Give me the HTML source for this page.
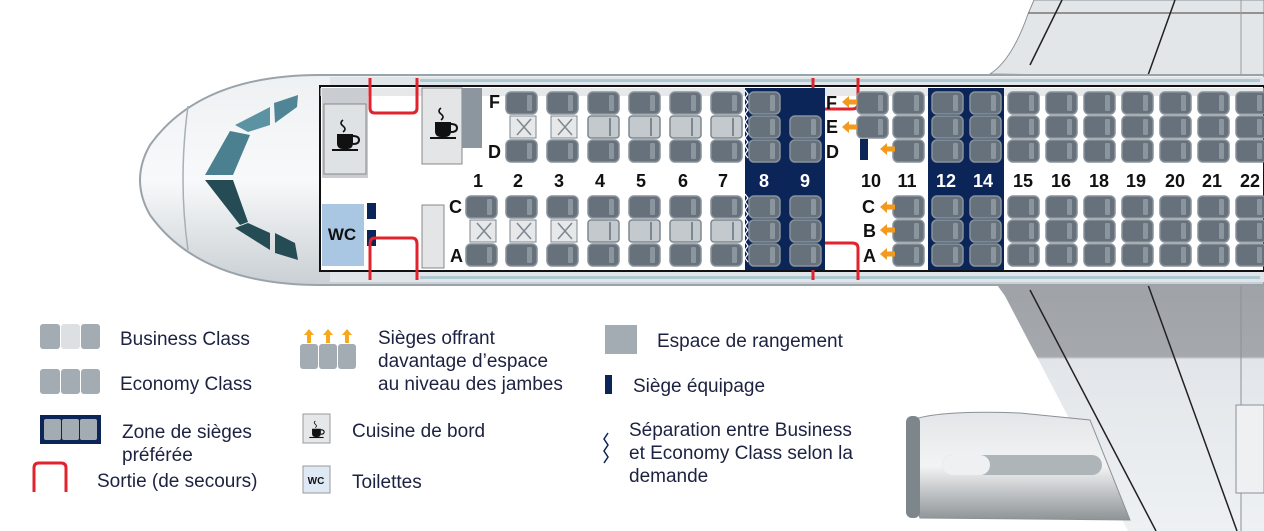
<!DOCTYPE html>
<html><head><meta charset="utf-8"><style>
body{margin:0;background:#fff;width:1264px;height:531px;overflow:hidden}
svg{display:block}
text{font-family:"Liberation Sans",sans-serif}
</style></head><body>
<svg width="1264" height="531" viewBox="0 0 1264 531" xmlns="http://www.w3.org/2000/svg">
<defs>
<linearGradient id="wing" x1="0" y1="0" x2="0" y2="1">
<stop offset="0" stop-color="#9fa3a7"/><stop offset="0.3" stop-color="#a5a9ad"/><stop offset="0.31" stop-color="#e2e6ea"/><stop offset="1" stop-color="#eef1f3"/>
</linearGradient>
<linearGradient id="body" x1="0" y1="0" x2="0" y2="1">
<stop offset="0" stop-color="#eef1f3"/><stop offset="0.5" stop-color="#f8f9fa"/><stop offset="1" stop-color="#c9cfd4"/>
</linearGradient>
<linearGradient id="eng" x1="0" y1="0" x2="0" y2="1">
<stop offset="0" stop-color="#e3e6e8"/><stop offset="0.5" stop-color="#f2f3f4"/><stop offset="1" stop-color="#8e9396"/>
</linearGradient>
<g id="s"><rect x="0" y="0" width="31" height="22" rx="5" fill="#66717b" stroke="#88929a" stroke-width="1.5"/><rect x="21" y="3" width="5" height="16" rx="1" fill="#8a959e"/></g>
<g id="b"><rect x="0" y="0" width="31" height="22" rx="3" fill="#c4c9ce" stroke="#7d878f" stroke-width="1.5"/><rect x="21" y="2" width="2" height="18" fill="#7d878f"/></g>
<g id="x"><rect x="4" y="0" width="26" height="22" fill="#e6e8ea" stroke="#7d878f" stroke-width="1"/><path d="M11 3 L25 19 M25 3 L11 19" stroke="#7d878f" stroke-width="1.5"/></g>
<g id="ar"><path d="M0 0 L7 -6 L7 -2.5 L15 -2.5 L15 2.5 L7 2.5 L7 6 Z" fill="#f39a1e"/></g>
<g id="cup"><path d="M-3 -20 q-4 3 0 6 q4 3 0 6" stroke="#111" fill="none" stroke-width="1.6"/><path d="M-9 -6 h16 v9 q0 6 -6 6 h-4 q-6 0 -6 -6 z" fill="#111"/><path d="M7 -4 q6 0 6 4 q0 4 -6 4" stroke="#111" fill="none" stroke-width="2"/><rect x="-14" y="9" width="26" height="2" fill="#111"/></g>
</defs>
<!-- top wing -->
<path d="M990 74 Q1012 60 1028 14 L1034 0 L1264 0 L1264 78 Z" fill="#e3e6e9" stroke="#8a9096"/>
<path d="M1028 13 L1264 13" stroke="#777" stroke-width="1.5"/>
<path d="M1030 65 L1062 0 M1147 78 L1175 0" stroke="#222" stroke-width="1.5"/>
<path d="M1241 0 L1241 78" stroke="#999"/>
<!-- lower wing -->
<path d="M995 282 L1264 282 L1264 531 L1128 531 L1005 296 Z" fill="url(#wing)"/>
<path d="M1030 290 L1156 531 M1147 282 L1237 531" stroke="#222" stroke-width="1.5"/>
<path d="M1241 282 L1241 531" stroke="#8b9196"/>
<rect x="1236" y="405" width="28" height="88" fill="#eef0f2" stroke="#8b9196"/>
<!-- engine -->
<path d="M912 420 Q940 410 1020 413 L1090 420 L1130 520 L920 518 Q903 470 912 420 Z" fill="url(#eng)" stroke="#8b9196"/>
<rect x="906" y="416" width="14" height="102" rx="6" fill="#7d868b"/>
<rect x="942" y="455" width="160" height="20" rx="10" fill="#aeb5b9"/>
<rect x="942" y="455" width="48" height="20" rx="10" fill="#eef0f1"/>
<!-- fuselage -->
<path d="M320 75 L1264 75 L1264 285 L320 285 Q200 285 150 215 Q130 180 150 145 Q200 75 320 75 Z" fill="url(#body)" stroke="#9aa3aa" stroke-width="2"/>
<rect x="330" y="77" width="934" height="9" fill="#dfe5e8"/>
<rect x="330" y="272" width="934" height="10" fill="#dfe5e8"/>
<g fill="#8fb6c3"><rect x="420" y="79" width="840" height="3" opacity=".6"/><rect x="420" y="276" width="840" height="3" opacity=".6"/></g>
<!-- cockpit windows -->
<path d="M274 103 L298 95 L297 107 L275 123 Z" fill="#4f8595"/>
<path d="M235 125 L270 107 L270 125 L248 132 Z" fill="#5b93a2"/>
<path d="M230 131 L250 135 L233 175 L205 175 Z" fill="#4a8090"/>
<path d="M205 180 L233 180 L248 222 L240 225 Z" fill="#254b55"/>
<path d="M235 228 L248 223 L270 233 L270 250 Z" fill="#254b55"/>
<path d="M275 233 L295 243 L298 260 L275 253 Z" fill="#254b55"/>
<path d="M188 106 Q178 180 188 250" stroke="#a7b0b6" fill="none" stroke-width="1.5"/>
<!-- cabin -->
<rect x="320" y="86" width="944" height="185" fill="#fff" stroke="#111" stroke-width="2"/>
<rect x="320" y="88" width="944" height="8" fill="#d6d9dc" opacity=".6"/>
<!-- front galley -->
<rect x="322" y="88" width="46" height="90" fill="#c9cdd1"/>
<rect x="324" y="104" width="42" height="70" fill="#dfe2e5" stroke="#888"/>
<use href="#cup" x="346" y="140"/>
<rect x="322" y="204" width="42" height="62" fill="#a9c7e3"/>
<text x="342" y="240" font-size="17" font-weight="bold" text-anchor="middle" fill="#111">WC</text>
<rect x="367" y="203" width="9" height="16" fill="#0b2559"/><rect x="367" y="230" width="9" height="16" fill="#0b2559"/>
<rect x="422" y="88" width="40" height="76" fill="#e3e5e7" stroke="#888"/>
<rect x="462" y="88" width="20" height="60" fill="#8b969f"/>
<use href="#cup" x="444" y="128"/>
<rect x="422" y="205" width="22" height="63" fill="#e3e5e7" stroke="#888"/>
<!-- exits -->
<g fill="none" stroke="#e0232d" stroke-width="3">
<path d="M370 78 L370 108 Q370 113 375 113 L412 113 Q417 113 417 108 L417 78"/>
<path d="M370 280 L370 244 Q370 238 375 238 L412 238 Q417 238 417 244 L417 280"/>
<path d="M813 78 L813 104 Q813 109 818 109 L852 109 Q858 109 858 104 L858 78"/>
<path d="M813 280 L813 248 Q813 243 818 243 L852 243 Q858 243 858 248 L858 280"/>
</g>
<!-- navy zones -->
<rect x="745" y="88" width="80" height="182" fill="#0b2559"/>
<rect x="928" y="88" width="76" height="182" fill="#0b2559"/>
<path d="M745 90 l3 4 -3 4 3 4 -3 4 3 4 -3 4 3 4 -3 4 3 4 -3 4 3 4 -3 4 3 4 -3 4 3 4 -3 4 3 4 M745 194 l3 4 -3 4 3 4 -3 4 3 4 -3 4 3 4 -3 4 3 4 -3 4 3 4 -3 4 3 4 -3 4 3 4 -3 4 3 4" stroke="#fff" fill="none" stroke-width="1.2"/>
<g>
<use href="#s" x="506" y="92"/><use href="#x" x="506" y="116"/><use href="#s" x="506" y="140"/>
<use href="#s" x="547" y="92"/><use href="#x" x="547" y="116"/><use href="#s" x="547" y="140"/>
<use href="#s" x="588" y="92"/><use href="#b" x="588" y="116"/><use href="#s" x="588" y="140"/>
<use href="#s" x="629" y="92"/><use href="#b" x="629" y="116"/><use href="#s" x="629" y="140"/>
<use href="#s" x="670" y="92"/><use href="#b" x="670" y="116"/><use href="#s" x="670" y="140"/>
<use href="#s" x="711" y="92"/><use href="#b" x="711" y="116"/><use href="#s" x="711" y="140"/>
<use href="#s" x="466" y="196"/><use href="#x" x="466" y="220"/><use href="#s" x="466" y="244"/>
<use href="#s" x="506" y="196"/><use href="#x" x="506" y="220"/><use href="#s" x="506" y="244"/>
<use href="#s" x="547" y="196"/><use href="#x" x="547" y="220"/><use href="#s" x="547" y="244"/>
<use href="#s" x="588" y="196"/><use href="#b" x="588" y="220"/><use href="#s" x="588" y="244"/>
<use href="#s" x="629" y="196"/><use href="#b" x="629" y="220"/><use href="#s" x="629" y="244"/>
<use href="#s" x="670" y="196"/><use href="#b" x="670" y="220"/><use href="#s" x="670" y="244"/>
<use href="#s" x="711" y="196"/><use href="#b" x="711" y="220"/><use href="#s" x="711" y="244"/>
<use href="#s" x="749" y="92"/><use href="#s" x="749" y="116"/><use href="#s" x="749" y="140"/>
<use href="#s" x="790" y="116"/><use href="#s" x="790" y="140"/>
<use href="#s" x="749" y="196"/><use href="#s" x="749" y="220"/><use href="#s" x="749" y="244"/>
<use href="#s" x="790" y="196"/><use href="#s" x="790" y="220"/><use href="#s" x="790" y="244"/>
<use href="#s" x="857" y="92"/><use href="#s" x="857" y="116"/>
<rect x="860" y="139" width="8" height="21" fill="#0b2559"/>
<use href="#s" x="893" y="92"/><use href="#s" x="893" y="116"/><use href="#s" x="893" y="140"/>
<use href="#s" x="893" y="196"/><use href="#s" x="893" y="220"/><use href="#s" x="893" y="244"/>
<use href="#s" x="932" y="92"/><use href="#s" x="932" y="116"/><use href="#s" x="932" y="140"/>
<use href="#s" x="970" y="92"/><use href="#s" x="970" y="116"/><use href="#s" x="970" y="140"/>
<use href="#s" x="932" y="196"/><use href="#s" x="932" y="220"/><use href="#s" x="932" y="244"/>
<use href="#s" x="970" y="196"/><use href="#s" x="970" y="220"/><use href="#s" x="970" y="244"/>
<g id="r"><use href="#s" x="1008" y="92"/><use href="#s" x="1008" y="116"/><use href="#s" x="1008" y="140"/><use href="#s" x="1008" y="196"/><use href="#s" x="1008" y="220"/><use href="#s" x="1008" y="244"/></g>
<use href="#r" x="38"/><use href="#r" x="76"/><use href="#r" x="114"/><use href="#r" x="152"/><use href="#r" x="190"/><use href="#r" x="228"/>
</g>
<!-- arrows -->
<use href="#ar" x="842" y="102"/><use href="#ar" x="842" y="127"/><use href="#ar" x="880" y="149"/>
<use href="#ar" x="880" y="207"/><use href="#ar" x="880" y="230"/><use href="#ar" x="880" y="254"/>
<g font-size="18" font-weight="bold" fill="#111">
<text x="489" y="108">F</text><text x="488" y="158">D</text>
<text x="449" y="213">C</text><text x="450" y="262">A</text>
<text x="826" y="109">F</text><text x="826" y="133">E</text><text x="826" y="158">D</text>
<text x="862" y="213">C</text><text x="863" y="237">B</text><text x="863" y="262">A</text>
</g>
<g font-size="18" font-weight="bold" text-anchor="middle" fill="#111">
<text x="478" y="187">1</text><text x="518" y="187">2</text><text x="559" y="187">3</text><text x="600" y="187">4</text><text x="641" y="187">5</text><text x="683" y="187">6</text><text x="723" y="187">7</text>
<text x="764" y="187" fill="#fff">8</text><text x="805" y="187" fill="#fff">9</text>
<text x="871" y="187">10</text><text x="907" y="187">11</text>
<text x="946" y="187" fill="#fff">12</text><text x="983" y="187" fill="#fff">14</text>
<text x="1023" y="187">15</text><text x="1061" y="187">16</text><text x="1099" y="187">18</text><text x="1136" y="187">19</text><text x="1175" y="187">20</text><text x="1212" y="187">21</text><text x="1250" y="187">22</text>
</g>
<!-- legend -->
<g>
<rect x="40" y="324" width="20" height="25" rx="3" fill="#a4acb3"/><rect x="61" y="324" width="19" height="25" rx="3" fill="#dde0e3"/><rect x="81" y="324" width="19" height="25" rx="3" fill="#a4acb3"/>
<rect x="40" y="369" width="20" height="25" rx="3" fill="#a4acb3"/><rect x="61" y="369" width="19" height="25" rx="3" fill="#a4acb3"/><rect x="81" y="369" width="19" height="25" rx="3" fill="#a4acb3"/>
<rect x="40" y="415" width="61" height="29" fill="#0b2559"/>
<rect x="44" y="419" width="17" height="21" rx="2" fill="#a4acb3"/><rect x="62" y="419" width="17" height="21" rx="2" fill="#a4acb3"/><rect x="80" y="419" width="17" height="21" rx="2" fill="#a4acb3"/>
<path d="M34 492 L34 468 Q34 463 39 463 L61 463 Q66 463 66 468 L66 492" fill="none" stroke="#e0232d" stroke-width="3"/>
<rect x="300" y="344" width="18" height="25" rx="3" fill="#a4acb3"/><rect x="319" y="344" width="18" height="25" rx="3" fill="#a4acb3"/><rect x="338" y="344" width="18" height="25" rx="3" fill="#a4acb3"/>
<path d="M309 329 l-5 6 h3 v8 h4 v-8 h3 z M328 329 l-5 6 h3 v8 h4 v-8 h3 z M347 329 l-5 6 h3 v8 h4 v-8 h3 z" fill="#f7a81b"/>
<rect x="303" y="414" width="27" height="29" fill="#e5e7e9" stroke="#999"/>
<use href="#cup" transform="translate(317 432) scale(0.55)"/>
<rect x="303" y="466" width="27" height="27" fill="#dfe9f5" stroke="#999"/>
<text x="316" y="484" font-size="10" font-weight="bold" text-anchor="middle" fill="#111">WC</text>
<rect x="605" y="325" width="32" height="29" fill="#a4acb3"/>
<rect x="605" y="375" width="7" height="19" fill="#0b2559"/>
<path d="M608 433 l-4 6 4 6 -4 6 4 6 -4 6" fill="none" stroke="#0b2559" stroke-width="1.5"/>
</g>
<g font-size="19" fill="#1c2240">
<text x="120" y="345">Business Class</text>
<text x="120" y="390">Economy Class</text>
<text x="122" y="438">Zone de sièges</text><text x="122" y="461">préférée</text>
<text x="97" y="487">Sortie (de secours)</text>
<text x="378" y="344">Sièges offrant</text><text x="378" y="367">davantage d’espace</text><text x="378" y="390">au niveau des jambes</text>
<text x="352" y="437">Cuisine de bord</text>
<text x="352" y="488">Toilettes</text>
<text x="657" y="347">Espace de rangement</text>
<text x="633" y="392">Siège équipage</text>
<text x="629" y="436">Séparation entre Business</text><text x="629" y="459">et Economy Class selon la</text><text x="629" y="482">demande</text>
</g>
</svg>
</body></html>
